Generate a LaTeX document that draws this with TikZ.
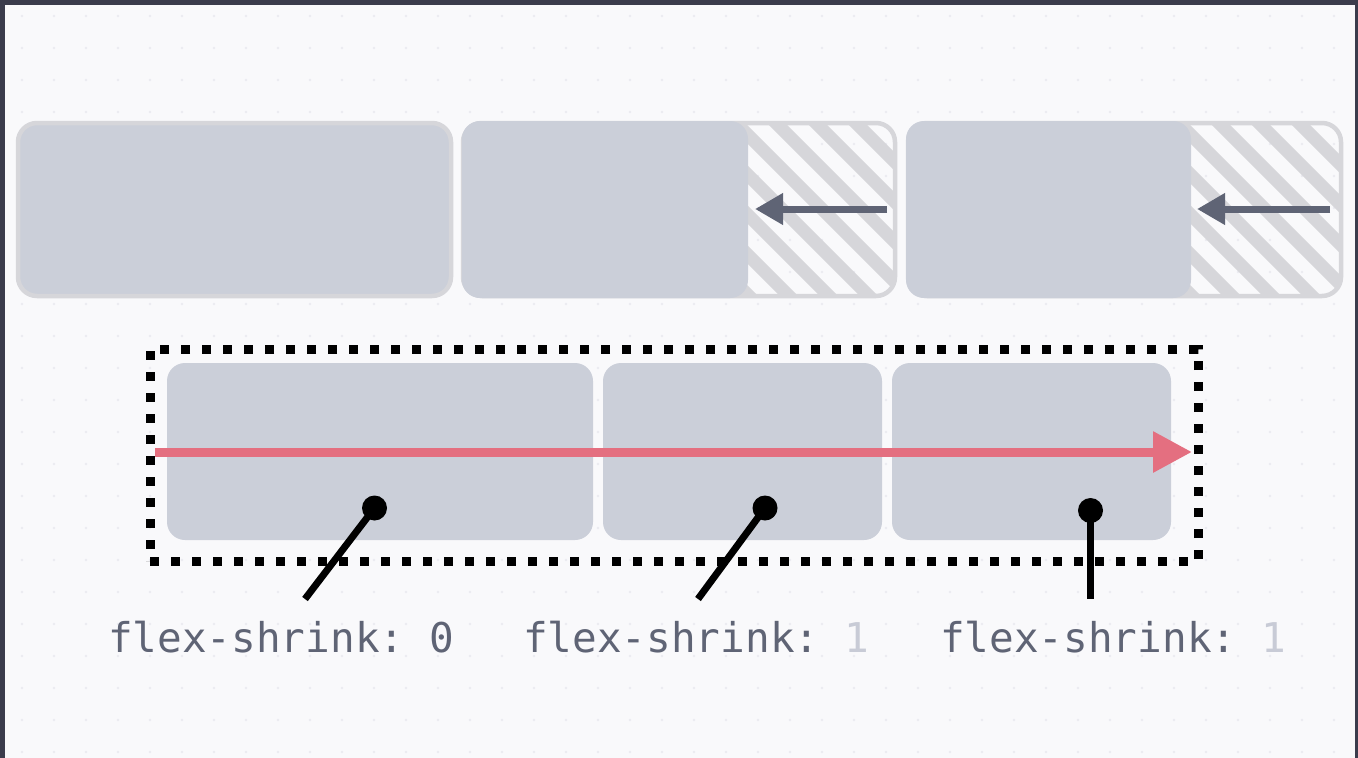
\documentclass[tikz,border=0pt]{standalone}
\usepackage{fontspec}
\newfontfamily\labelmono{DejaVu Sans Mono}
\usetikzlibrary{arrows.meta}
\definecolor{bgc}{HTML}{F9F9FB}
\definecolor{framec}{HTML}{3B3C4C}
\definecolor{dotc}{HTML}{EBEBF0}
\definecolor{boxc}{HTML}{CBCFD9}
\definecolor{borderc}{HTML}{D6D6DA}
\definecolor{arrowc}{HTML}{5F6475}
\definecolor{redc}{HTML}{E46F80}
\definecolor{lightnum}{HTML}{C8CBD6}
\tikzset{
  topbox/.style={draw=borderc, line width=4.5pt, rounded corners=19pt, inner sep=0pt, outer sep=0pt},
  fillbox/.style={fill=boxc, rounded corners=18pt, inner sep=0pt, outer sep=0pt},
  hatchline/.style={draw=borderc, line width=13pt},
  grayarrow/.style={draw=arrowc, line width=7pt, -{Triangle[length=28pt,width=30pt]}},
  redarrow/.style={draw=redc, line width=9pt, -{Triangle[length=39pt,width=39pt]}},
  dotbox/.style={draw=black, line width=9pt, dash pattern=on 9pt off 12pt, inner sep=0pt, outer sep=0pt},
  pindot/.style={circle, fill=black, minimum size=25pt, inner sep=0pt, outer sep=0pt},
  pinline/.style={draw=black, line width=7pt},
  codelabel/.style={anchor=base west, inner sep=0pt, text=arrowc, font=\labelmono\fontsize{41}{49}\selectfont\frenchspacing}
}
\begin{document}
\begin{tikzpicture}[x=1pt,y=-1pt]
\useasboundingbox (0,0) rectangle (1358,758);
\fill[bgc] (0,0) rectangle (1358,758);
\foreach \i in {0,...,42} {
  \foreach \j in {0,...,23} {
    \fill[dotc] ({22+32*\i},{16+32*\j}) circle (1.4pt);
  }
}
\fill[framec] (0,0) rectangle (1358,5);
\fill[framec] (0,0) rectangle (5,758);
\fill[framec] (1355,0) rectangle (1358,758);

% top row
\node[topbox, fill=boxc, minimum width=433pt, minimum height=173pt] (b1) at (234.5,209.5) {};

\begin{scope}
  \clip[rounded corners=19pt] (463,123) rectangle (895,296);
  \foreach \k in {0,...,9} {
    \draw[hatchline] ({553+40*\k},100) -- ({773+40*\k},320);
  }
\end{scope}
\node[topbox, minimum width=432pt, minimum height=173pt] (b2) at (679,209.5) {};
\node[fillbox, minimum width=286pt, minimum height=177pt] (f2) at (605,209.5) {};

\begin{scope}
  \clip[rounded corners=19pt] (908,123) rectangle (1341,296);
  \foreach \k in {0,...,9} {
    \draw[hatchline] ({996+40*\k},100) -- ({1216+40*\k},320);
  }
\end{scope}
\node[topbox, minimum width=433pt, minimum height=173pt] (b3) at (1124.5,209.5) {};
\node[fillbox, minimum width=285pt, minimum height=177pt] (f3) at (1048.5,209.5) {};

\coordinate (a2s) at (887,209);
\coordinate (a2e) at (755,209);
\draw[grayarrow] (a2s) -- (a2e);
\coordinate (a3s) at (1330,209);
\coordinate (a3e) at (1197,209);
\draw[grayarrow] (a3s) -- (a3e);

% bottom container
\node[fillbox, minimum width=426pt, minimum height=177pt] (c1) at (380,451.5) {};
\node[fillbox, minimum width=279pt, minimum height=177pt] (c2) at (742.5,451.5) {};
\node[fillbox, minimum width=279pt, minimum height=177pt] (c3) at (1031.5,451.5) {};
\node[dotbox, minimum width=1048pt, minimum height=212pt] (cont) at (674,455) {};

\coordinate (rs) at (155,452);
\coordinate (re) at (1192,452);
\draw[redarrow] (rs) -- (re);

% pins
\node[pindot] (p1) at (374.5,508) {};
\node[pindot] (p2) at (765,508) {};
\node[pindot] (p3) at (1090.5,510.5) {};
\coordinate (t1) at (305,599);
\coordinate (t2) at (698,599);
\coordinate (t3) at (1090.5,599);
\draw[pinline] (p1.center) -- (t1);
\draw[pinline] (p2.center) -- (t2);
\draw[pinline] (p3.center) -- (t3);

% labels
\node[codelabel] (l1) at (108,652) {flex-shrink: 0};
\node[codelabel] (l2) at (523,652) {flex-shrink: \textcolor{lightnum}{1}};
\node[codelabel] (l3) at (940,652) {flex-shrink: \textcolor{lightnum}{1}};
\end{tikzpicture}
\end{document}
